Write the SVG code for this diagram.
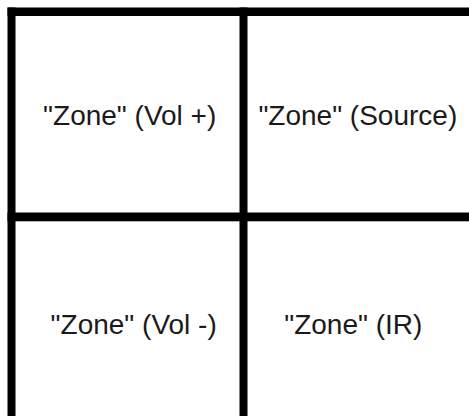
<svg xmlns="http://www.w3.org/2000/svg" width="469" height="416" viewBox="0 0 469 416">
  <style>
    .bar { fill: #000000; }
    .lbl { font-family: "Liberation Sans", Arial, sans-serif; font-size: 28px; fill: #1a1a1a; text-anchor: middle; }
  </style>
  <rect x="0" y="0" width="469" height="416" fill="#ffffff"/>
  <g id="grid">
    <rect class="bar" x="7.5" y="7.5" width="461.5" height="8.5"/>
    <rect class="bar" x="7.5" y="212.5" width="461.5" height="8.8"/>
    <rect class="bar" x="7.5" y="7.5" width="8" height="408.5"/>
    <rect class="bar" x="239.5" y="7.5" width="8" height="408.5"/>
  </g>
  <g id="zone-vol-plus">
    <text class="lbl" x="129.7" y="125">"Zone" (Vol +)</text>
  </g>
  <g id="zone-source">
    <text class="lbl" x="357.8" y="125">"Zone" (Source)</text>
  </g>
  <g id="zone-vol-minus">
    <text class="lbl" x="133.7" y="334">"Zone" (Vol -)</text>
  </g>
  <g id="zone-ir">
    <text class="lbl" x="353.3" y="334">"Zone" (IR)</text>
  </g>
</svg>
